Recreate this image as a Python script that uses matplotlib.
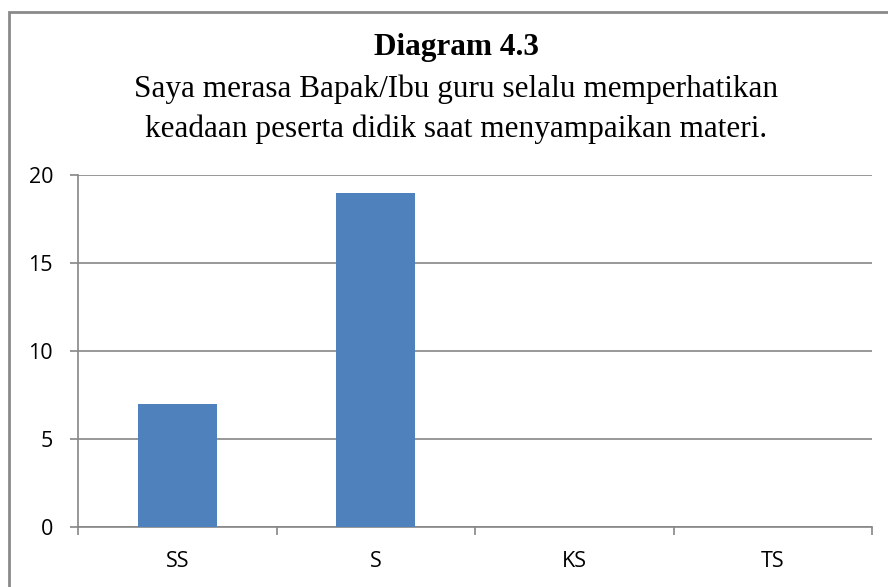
import matplotlib.pyplot as plt
from matplotlib.patches import Rectangle

categories = ['SS', 'S', 'KS', 'TS']
values = [7, 19, 0, 0]
yticks = [0, 5, 10, 15, 20]

title = 'Diagram 4.3'
subtitle = ['Saya merasa Bapak/Ibu guru selalu memperhatikan',
            'keadaan peserta didik saat menyampaikan materi.']

W, H = 888, 587
fig = plt.figure(figsize=(W / 100, H / 100), dpi=100)

# outer chart border (only top and left are visible in the crop)
fig.patches.append(Rectangle((9 / W, -0.5), 2, 0.5 + (H - 12) / H, transform=fig.transFigure,
                             fill=False, edgecolor='#8a8a8a', linewidth=2))

ax = fig.add_axes([78 / W, 1 - 527 / H, (872 - 78) / W, (527 - 175) / H])
x = range(len(categories))
ax.bar(x, values, width=0.4, color='#4f81bd', zorder=3)

ax.set_xlim(-0.5, len(categories) - 0.5)
ax.set_ylim(0, 20)
ax.set_yticks(yticks)
ax.set_yticklabels([str(t) for t in yticks], fontsize=15.5, family='Open Sans')
ax.set_xticks(list(x))
ax.set_xticklabels(categories, fontsize=15.5, family='Open Sans')
ax.set_xticks([i - 0.5 for i in range(len(categories) + 1)], minor=True)
ax.tick_params(axis='x', which='major', length=0, pad=17)
ax.tick_params(axis='x', which='minor', length=6, width=1.2, color='#868686', direction='out')
ax.tick_params(axis='y', length=6, width=1.2, color='#868686', pad=12)
ax.grid(axis='y', color='#868686', linewidth=1.2, zorder=0)
for s in ['top', 'right']:
    ax.spines[s].set_visible(False)
for s in ['left', 'bottom']:
    ax.spines[s].set_color('#868686')
    ax.spines[s].set_linewidth(1.2)

fig.text(456 / W, 1 - 48 / H, title, ha='center', va='center', fontsize=22.5,
         fontweight='bold', family='Liberation Serif')
fig.text(456 / W, 1 - 89 / H, subtitle[0], ha='center', va='center', fontsize=22.5,
         family='Liberation Serif')
fig.text(456 / W, 1 - 129 / H, subtitle[1], ha='center', va='center', fontsize=22.5,
         family='Liberation Serif')

fig.savefig('out.png', dpi=100)
